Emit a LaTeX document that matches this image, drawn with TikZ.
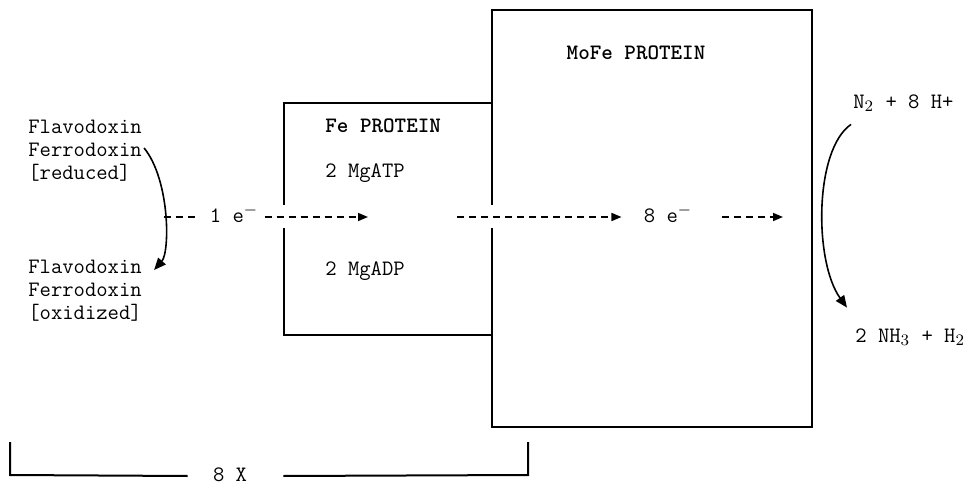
\documentclass[tikz,border=0pt]{standalone}
\usetikzlibrary{arrows.meta}
\begin{document}
\begin{tikzpicture}[x=0.5pt,y=-0.5pt,
  txt/.style={font=\ttfamily\fontsize{11}{13}\selectfont, inner sep=0pt, text height=7pt, text depth=2pt},
  boldtxt/.style={txt, font=\ttfamily\bfseries\fontsize{11}{13}\selectfont},
  frame/.style={line width=1pt},
  flow/.style={line width=0.75pt, dash pattern=on 3.5pt off 2.5pt},
  flowarrow/.style={flow, -{Triangle[length=5pt,width=4pt]}},
  bendarrow/.style={line width=0.8pt, -{Triangle[length=6pt,width=5pt]}}]
\useasboundingbox (0,0) rectangle (976,487);

% boxes
\draw[frame] (284,205) -- (284,103) -- (492,103);
\draw[frame] (284,228) -- (284,335) -- (492,335);
\draw[frame] (492,205) -- (492,10) -- (812,10) -- (812,427) -- (492,427) -- (492,228);

% box labels
\node[boldtxt] (mofe) at (636,54) {MoFe PROTEIN};
\node[boldtxt, anchor=west] (fe) at (325,127) {Fe PROTEIN};
\node[txt, anchor=west] (atp) at (325,172) {2 MgATP};
\node[txt, anchor=west] (adp) at (325,270) {2 MgADP};

% left labels
\node[txt, anchor=west] (fl1) at (28,128) {Flavodoxin};
\node[txt, anchor=west] (fr1) at (28,151) {Ferrodoxin};
\node[txt, anchor=west] (rd) at (28,174) {[reduced]};
\node[txt, anchor=west] (fl2) at (28,268) {Flavodoxin};
\node[txt, anchor=west] (fr2) at (28,291) {Ferrodoxin};
\node[txt, anchor=west] (ox) at (28,314) {[oxidized]};

% right labels
\node[txt, anchor=west] (n2) at (853,103) {N$_2$ + 8 H+};
\node[txt, anchor=west] (nh3) at (855,337) {2 NH$_3$ + H$_2$};

% electron flow
\coordinate (c1) at (164,217);
\node[txt] (e1) at (234,217) {1 e$^-$};
\coordinate (t1) at (368,217);
\coordinate (s2) at (457,217);
\node[txt] (e8) at (668,217) {8 e$^-$};
\coordinate (t3) at (783,217);

\draw[flow] (c1) -- ([shift={(-11,0)}]e1.west);
\draw[flowarrow] ([shift={(6,0)}]e1.east) -- (t1);
\draw[flowarrow] (s2) -- ([shift={(-22,0)}]e8.west);
\draw[flowarrow] ([shift={(29,0)}]e8.east) -- (t3);

% curved arrows
\draw[bendarrow] ([shift={(2,-3)}]fr1.east) .. controls (170,180) and (170,252) .. ([shift={(12,2)}]fl2.east);
\draw[bendarrow] ([shift={(-2,12)}]n2.south west) .. controls (814,150) and (814,262) .. ([shift={(-8,-20)}]nh3.north west);

% bracket
\node[txt] (x8) at (230,476) {8 X};
\draw[frame] ([shift={(-25,0)}]x8.west) -- (10,475) -- (10,442);
\draw[frame] ([shift={(36,0)}]x8.east) -- (528,475) -- (528,442);
\end{tikzpicture}
\end{document}
